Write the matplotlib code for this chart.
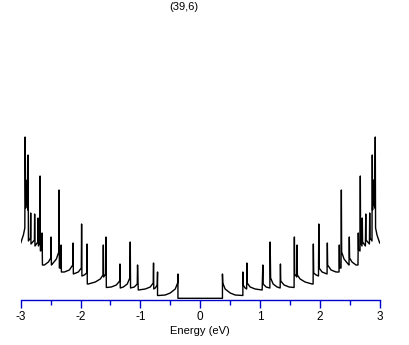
import numpy as np
import matplotlib.pyplot as plt
from matplotlib.ticker import MultipleLocator

# DOS of the (39,6) tube, positive-energy half
# (the curve is mirror symmetric about E = 0)
energy_pos = [0.000, 0.372, 0.372, 0.377, 0.417, 0.501, 0.584, 0.693, 0.713, 0.713,
              0.718, 0.751, 0.776, 0.780, 0.785, 0.835, 0.918, 1.035, 1.047, 1.052,
              1.102, 1.164, 1.169, 1.177, 1.219, 1.285, 1.336, 1.341, 1.346, 1.402,
              1.486, 1.569, 1.574, 1.579, 1.614, 1.619, 1.624, 1.670, 1.753, 1.870,
              1.887, 1.891, 1.897, 1.937, 1.977, 1.982, 1.987, 2.037, 2.120, 2.125,
              2.130, 2.187, 2.270, 2.320, 2.325, 2.330, 2.354, 2.359, 2.364, 2.404,
              2.471, 2.487, 2.492, 2.497, 2.537, 2.604, 2.637, 2.642, 2.647, 2.671,
              2.676, 2.681, 2.704, 2.709, 2.714, 2.761, 2.767, 2.771, 2.828, 2.833,
              2.838, 2.871, 2.876, 2.881, 2.893, 2.898, 2.910, 2.916, 2.926, 2.931,
              2.955, 3.000]
dos_pos = [1.7, 1.7, 26, 17, 11, 7, 5, 4.5, 4.5, 28,
           15, 12, 11, 37, 17, 13, 11, 10, 35, 16,
           13, 12, 58, 22, 16, 13, 12, 36, 19, 15,
           13, 12.5, 63, 26, 23, 55, 25, 21, 18, 16,
           16, 56, 27, 25, 24, 76, 32, 28, 26, 57,
           35, 30, 28, 28, 55, 32, 32, 110, 48, 41,
           36, 35, 63, 42, 38, 35, 35, 67, 50, 49,
           124, 58, 54, 82, 58, 54, 86, 60, 56, 87,
           62, 59, 145, 90, 120, 95, 115, 92, 163, 72,
           65, 57]

energy = np.concatenate([-np.array(energy_pos)[::-1], energy_pos])
dos = np.concatenate([np.array(dos_pos)[::-1], dos_pos])

axis_blue = '#0000cc'
plt.rcParams['font.family'] = ['Liberation Sans', 'DejaVu Sans']
plt.rcParams['axes.unicode_minus'] = False

fig = plt.figure(figsize=(4.09, 3.45), dpi=100)
ax = fig.add_axes([20.7 / 409, 45 / 345, 359 / 409, 300 / 345])
ax.plot(energy, dos, color='black', lw=1.0)

ax.set_xlim(-3, 3)
ax.set_ylim(0, 300)
for side in ['top', 'left', 'right']:
    ax.spines[side].set_visible(False)
ax.spines['bottom'].set_color(axis_blue)
ax.spines['bottom'].set_linewidth(1.0)
ax.set_yticks([])
ax.xaxis.set_major_locator(MultipleLocator(1))
ax.xaxis.set_minor_locator(MultipleLocator(0.5))
ax.tick_params(axis='x', which='major', length=5.8, width=1, color=axis_blue,
               labelsize=8.5, pad=2)
ax.tick_params(axis='x', which='minor', length=3.6, width=1, color=axis_blue)
ax.set_xlabel('Energy (eV)', fontsize=8, labelpad=2)

fig.text(184 / 409, 1 - 7 / 345, '(39,6)', fontsize=8, ha='center', va='center')

fig.savefig('out.png', dpi=100)
